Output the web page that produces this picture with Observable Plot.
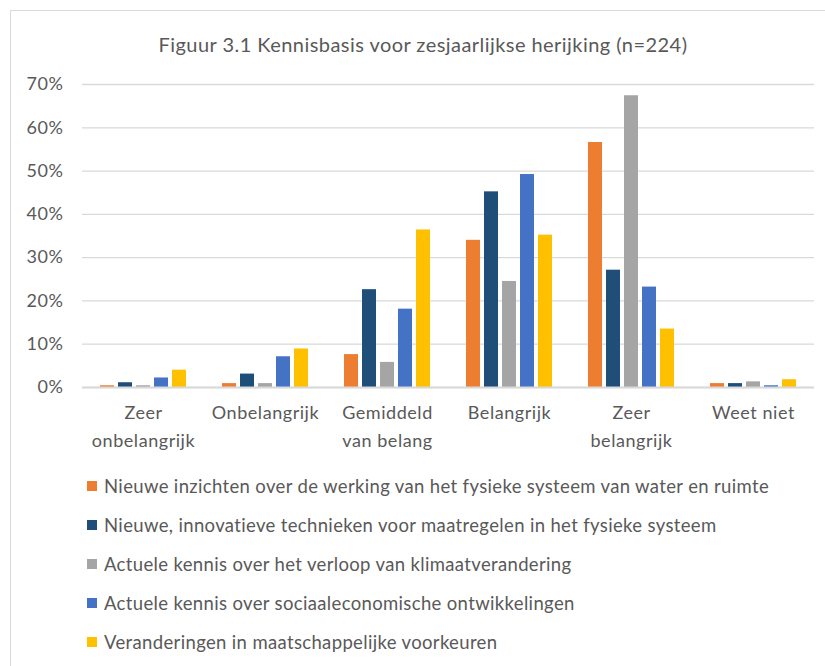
<!DOCTYPE html>
<html>
<head>
<meta charset="utf-8">
<script src="https://cdn.jsdelivr.net/npm/d3@7"></script>
<script src="https://cdn.jsdelivr.net/npm/@observablehq/plot@0.6"></script>
<style>
  html, body { margin: 0; padding: 0; background: #fff; }
  #wrap { position: relative; width: 825px; height: 666px; overflow: hidden; font-family: Lato, "Open Sans", sans-serif; color: #595959; }
  #frame { position: absolute; left: 10px; top: 10px; width: 840px; height: 700px; border: 1.5px solid #d9d9d9; box-sizing: border-box; }
  #title { position: absolute; left: 0; width: 846px; top: 30px; text-align: center; font-size: 20px; letter-spacing: 0.45px; line-height: 28px; }
  #chart { position: absolute; left: 0; top: 0; }
  #legend { position: absolute; left: 87px; top: 466px; font-size: 18.5px; letter-spacing: 0.35px; }
  .row { height: 39px; display: flex; align-items: center; }
  .sw { width: 10px; height: 10px; margin-right: 7px; flex: none; }
  #chart svg text { letter-spacing: 0.55px; }
</style>
</head>
<body>
<div id="wrap">
  <div id="frame"></div>
  <div id="title">Figuur 3.1 Kennisbasis voor zesjaarlijkse herijking (n=224)</div>
  <div id="chart"></div>
  <div id="legend"></div>
</div>
<script>
const categories = ["Zeer onbelangrijk", "Onbelangrijk", "Gemiddeld van belang", "Belangrijk", "Zeer belangrijk", "Weet niet"];
const categoryLabels = ["Zeer\nonbelangrijk", "Onbelangrijk", "Gemiddeld\nvan belang", "Belangrijk", "Zeer\nbelangrijk", "Weet niet"];
const series = [
  "Nieuwe inzichten over de werking van het fysieke systeem van water en ruimte",
  "Nieuwe, innovatieve technieken voor maatregelen in het fysieke systeem",
  "Actuele kennis over het verloop van klimaatverandering",
  "Actuele kennis over sociaaleconomische ontwikkelingen",
  "Veranderingen in maatschappelijke voorkeuren"
];
const colors = ["#ED7D31", "#1F4E79", "#A5A5A5", "#4472C4", "#FFC000"];
// values per series, in order of categories (fractions)
const nieuweInzichten   = [0.004, 0.009, 0.076, 0.340, 0.566, 0.009];
const innovatieveTechn  = [0.011, 0.031, 0.226, 0.452, 0.271, 0.009];
const klimaatKennis     = [0.004, 0.009, 0.058, 0.245, 0.674, 0.013];
const sociaalEconomisch = [0.022, 0.071, 0.181, 0.492, 0.232, 0.004];
const maatschappelijk   = [0.040, 0.089, 0.364, 0.352, 0.135, 0.018];
const seriesValues = [nieuweInzichten, innovatieveTechn, klimaatKennis, sociaalEconomisch, maatschappelijk];
const yTicks = [0, 0.1, 0.2, 0.3, 0.4, 0.5, 0.6, 0.7];

const data = [];
series.forEach((s, i) => categories.forEach((c, j) => data.push({category: c, series: s, value: seriesValues[i][j]})));

const labelOf = new Map(categories.map((c, i) => [c, categoryLabels[i]]));

const chart = Plot.plot({
  width: 825,
  height: 460,
  marginTop: 84,
  marginBottom: 73,
  marginLeft: 80,
  marginRight: 10,
  style: {fontFamily: "Lato, 'Open Sans', sans-serif", fontSize: "18px", color: "#595959", background: "transparent"},
  fx: {domain: categories, padding: 0, label: null},
  x: {domain: series, paddingInner: 0.226, paddingOuter: 0.83, axis: null},
  y: {domain: [0, 0.7], label: null},
  color: {domain: series, range: colors},
  marks: [
    Plot.gridY(yTicks, {stroke: "#d9d9d9", strokeOpacity: 1, strokeWidth: 1.3}),
    Plot.barY(data, {fx: "category", x: "series", y: "value", fill: "series"}),
    Plot.ruleY([0], {stroke: "#d9d9d9", strokeWidth: 2}),
    Plot.axisY(yTicks, {tickSize: 0, tickPadding: 19, tickFormat: d => Math.round(d * 100) + "%", label: null, fill: "#595959"}),
    Plot.axisFx({anchor: "bottom", tickSize: 0, tickPadding: 12, tickFormat: d => labelOf.get(d), lineHeight: 1.55, label: null, fill: "#595959"})
  ]
});
document.getElementById("chart").appendChild(chart);

const legend = document.getElementById("legend");
series.forEach((s, i) => {
  const row = document.createElement("div");
  row.className = "row";
  const sw = document.createElement("span");
  sw.className = "sw";
  sw.style.background = colors[i];
  const t = document.createElement("span");
  t.textContent = s;
  row.appendChild(sw);
  row.appendChild(t);
  legend.appendChild(row);
});
</script>
</body>
</html>
